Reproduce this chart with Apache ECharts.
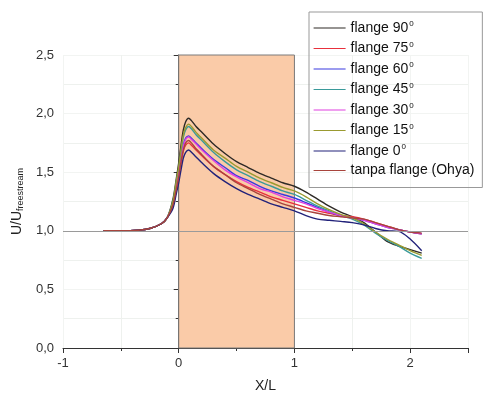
<!DOCTYPE html>
<html>
<head>
<meta charset="utf-8">
<script src="https://cdn.jsdelivr.net/npm/echarts@6/dist/echarts.min.js"></script>
<style>html,body{margin:0;padding:0;background:#fff}#c{width:484px;height:398px}</style>
</head>
<body>
<div id="c"></div>
<script>
const xs = [-0.65, -0.5, -0.35, -0.25, -0.15, -0.1, -0.05, -0.02, 0, 0.02, 0.04, 0.06, 0.085, 0.11, 0.15, 0.2, 0.3, 0.4, 0.5, 0.6, 0.7, 0.8, 0.9, 1.0, 1.1, 1.2, 1.3, 1.4, 1.5, 1.6, 1.7, 1.8, 1.9, 2.0, 2.1];

const flange90 = [1.0, 1.0, 1.005, 1.02, 1.06, 1.11, 1.27, 1.45, 1.58, 1.73, 1.86, 1.93, 1.96, 1.94, 1.89, 1.84, 1.74, 1.66, 1.59, 1.54, 1.49, 1.45, 1.41, 1.38, 1.33, 1.27, 1.21, 1.16, 1.12, 1.07, 0.99, 0.91, 0.87, 0.84, 0.81];
const flange75 = [1.0, 1.0, 1.005, 1.02, 1.06, 1.11, 1.21, 1.35, 1.45, 1.57, 1.68, 1.73, 1.75, 1.73, 1.69, 1.64, 1.55, 1.48, 1.42, 1.37, 1.33, 1.29, 1.26, 1.23, 1.20, 1.17, 1.15, 1.13, 1.12, 1.10, 1.07, 1.04, 1.01, 0.99, 0.975];
const flange60 = [1.0, 1.0, 1.005, 1.02, 1.06, 1.11, 1.23, 1.38, 1.49, 1.62, 1.73, 1.79, 1.81, 1.79, 1.75, 1.70, 1.61, 1.54, 1.47, 1.43, 1.38, 1.34, 1.31, 1.28, 1.24, 1.20, 1.16, 1.13, 1.11, 1.09, 1.06, 1.03, 1.01, 0.99, 0.975];
const flange45 = [1.0, 1.0, 1.005, 1.02, 1.06, 1.11, 1.25, 1.42, 1.53, 1.68, 1.80, 1.86, 1.89, 1.87, 1.82, 1.77, 1.67, 1.59, 1.52, 1.47, 1.42, 1.38, 1.34, 1.31, 1.26, 1.21, 1.17, 1.13, 1.10, 1.05, 0.98, 0.92, 0.87, 0.81, 0.765];
const flange30 = [1.0, 1.0, 1.005, 1.02, 1.06, 1.11, 1.22, 1.38, 1.48, 1.61, 1.72, 1.78, 1.80, 1.78, 1.74, 1.69, 1.60, 1.52, 1.46, 1.41, 1.36, 1.33, 1.29, 1.26, 1.23, 1.19, 1.16, 1.13, 1.11, 1.09, 1.06, 1.03, 1.01, 0.99, 0.975];
const flange15 = [1.0, 1.0, 1.005, 1.02, 1.06, 1.11, 1.25, 1.43, 1.55, 1.69, 1.82, 1.88, 1.91, 1.89, 1.84, 1.79, 1.69, 1.62, 1.55, 1.50, 1.45, 1.41, 1.37, 1.34, 1.29, 1.23, 1.18, 1.14, 1.11, 1.06, 0.99, 0.93, 0.88, 0.83, 0.79];
const flange0 = [1.0, 1.0, 1.005, 1.02, 1.06, 1.11, 1.19, 1.32, 1.41, 1.52, 1.62, 1.67, 1.69, 1.67, 1.63, 1.58, 1.49, 1.42, 1.36, 1.31, 1.27, 1.23, 1.20, 1.17, 1.13, 1.10, 1.09, 1.08, 1.07, 1.05, 1.02, 1.00, 0.995, 0.93, 0.83];
const tanpa = [1.0, 1.0, 1.005, 1.02, 1.06, 1.11, 1.22, 1.36, 1.46, 1.59, 1.69, 1.75, 1.77, 1.75, 1.70, 1.65, 1.55, 1.48, 1.41, 1.36, 1.31, 1.27, 1.23, 1.20, 1.17, 1.15, 1.13, 1.12, 1.11, 1.10, 1.07, 1.04, 1.01, 0.99, 0.98];

const seriesNames = ['flange 90', 'flange 75', 'flange 60', 'flange 45', 'flange 30', 'flange 15', 'flange 0', 'tanpa flange (Ohya)'];
const seriesValues = [flange90, flange75, flange60, flange45, flange30, flange15, flange0, tanpa];
const seriesColors = ['#2e2a26', '#e8303c', '#3a3adf', '#3a9a9a', '#e040e0', '#9a9a30', '#22227a', '#a8443c'];

const xTickLabels = ['-1', '0', '1', '2'];
const yTickLabels = ['0,0', '0,5', '1,0', '1,5', '2,0', '2,5'];
const regionX = [0, 1];
const regionY = [0, 2.5];
const refLineY = 1.0;

const FONT = 'Liberation Sans, Arial, sans-serif';

const series = seriesNames.map((n, i) => ({
  name: n,
  type: 'line',
  smooth: 0.3,
  symbol: 'none',
  z: 3,
  lineStyle: { color: seriesColors[i], width: 1.4 },
  itemStyle: { color: seriesColors[i] },
  data: xs.map((x, k) => [x, seriesValues[i][k]])
}));

series.unshift({
  name: 'bg',
  type: 'line',
  data: [],
  z: 1,
  markArea: {
    silent: true,
    itemStyle: { color: '#FACBA8', borderColor: '#7a7a7a', borderWidth: 1 },
    data: [[{ coord: [regionX[0], regionY[0]] }, { coord: [regionX[1], regionY[1]] }]]
  },
  markLine: {
    silent: true,
    symbol: 'none',
    label: { show: false },
    lineStyle: { color: '#9a9a9a', type: 'solid', width: 1 },
    data: [{ yAxis: refLineY }]
  }
});

const chart = echarts.init(document.getElementById('c'), null, { renderer: 'canvas' });
chart.setOption({
  animation: false,
  backgroundColor: '#fff',
  grid: { left: 63, right: 16, top: 55, bottom: 45 },
  legend: {
    data: seriesNames,
    orient: 'vertical',
    left: 309,
    top: 12,
    padding: [8, 8, 10, 4],
    itemGap: 4.5,
    itemWidth: 32,
    itemHeight: 14,
    borderColor: '#999',
    borderWidth: 1,
    itemStyle: { opacity: 0 },
    lineStyle: { width: 1.2 },
    formatter: function (n) {
      const m = n.match(/^flange (\d+)$/);
      return m ? '{t|flange ' + m[1] + '}{s|0}' : '{t|' + n + '}';
    },
    textStyle: {
      fontFamily: FONT,
      fontSize: 14,
      color: '#111',
      rich: {
        t: { fontFamily: FONT, fontSize: 14, color: '#111', lineHeight: 16 },
        s: { fontFamily: FONT, fontSize: 8, color: '#111', verticalAlign: 'top', lineHeight: 8, padding: [0, 0, 8, 1] }
      }
    }
  },
  xAxis: {
    type: 'value',
    min: -1,
    max: 2.5,
    interval: 1,
    name: 'X/L',
    nameLocation: 'middle',
    nameGap: 31,
    nameTextStyle: { fontFamily: FONT, fontSize: 14, color: '#222' },
    axisLine: { show: true, onZero: false, lineStyle: { color: '#333', width: 1 } },
    axisTick: { show: true, length: 5, lineStyle: { color: '#333' } },
    minorTick: { show: true, splitNumber: 2, length: 3, lineStyle: { color: '#333' } },
    axisLabel: {
      fontFamily: FONT, fontSize: 13, color: '#333', margin: 9,
      formatter: function (v) { const i = Math.round(v) + 1; return (Math.abs(v - Math.round(v)) < 1e-6 && xTickLabels[i] !== undefined) ? xTickLabels[i] : ''; }
    },
    splitLine: { show: true, lineStyle: { color: '#f2f4f2', width: 1 } },
    minorSplitLine: { show: true, lineStyle: { color: '#eef1ee', width: 1 } }
  },
  yAxis: {
    type: 'value',
    min: 0,
    max: 2.5,
    interval: 0.5,
    name: '{a|U/U}{b|freestream}',
    nameLocation: 'middle',
    nameGap: 37,
    nameRotate: 90,
    nameTextStyle: {
      fontFamily: FONT, fontSize: 14, color: '#222',
      rich: {
        a: { fontFamily: FONT, fontSize: 14, color: '#222', lineHeight: 16 },
        b: { fontFamily: FONT, fontSize: 9, color: '#222', verticalAlign: 'bottom', lineHeight: 9, padding: [5, 0, 0, 0] }
      }
    },
    axisLine: { show: true, lineStyle: { color: '#333', width: 1 } },
    axisTick: { show: true, length: 5, lineStyle: { color: '#333' } },
    minorTick: { show: true, splitNumber: 2, length: 3, lineStyle: { color: '#333' } },
    axisLabel: {
      fontFamily: FONT, fontSize: 13, color: '#333', margin: 9,
      formatter: function (v) { const i = Math.round(v / 0.5); return yTickLabels[i] !== undefined ? yTickLabels[i] : ''; }
    },
    splitLine: { show: true, lineStyle: { color: '#f2f4f2', width: 1 } },
    minorSplitLine: { show: true, lineStyle: { color: '#eef1ee', width: 1 } }
  },
  series: series
});
</script>
</body>
</html>
